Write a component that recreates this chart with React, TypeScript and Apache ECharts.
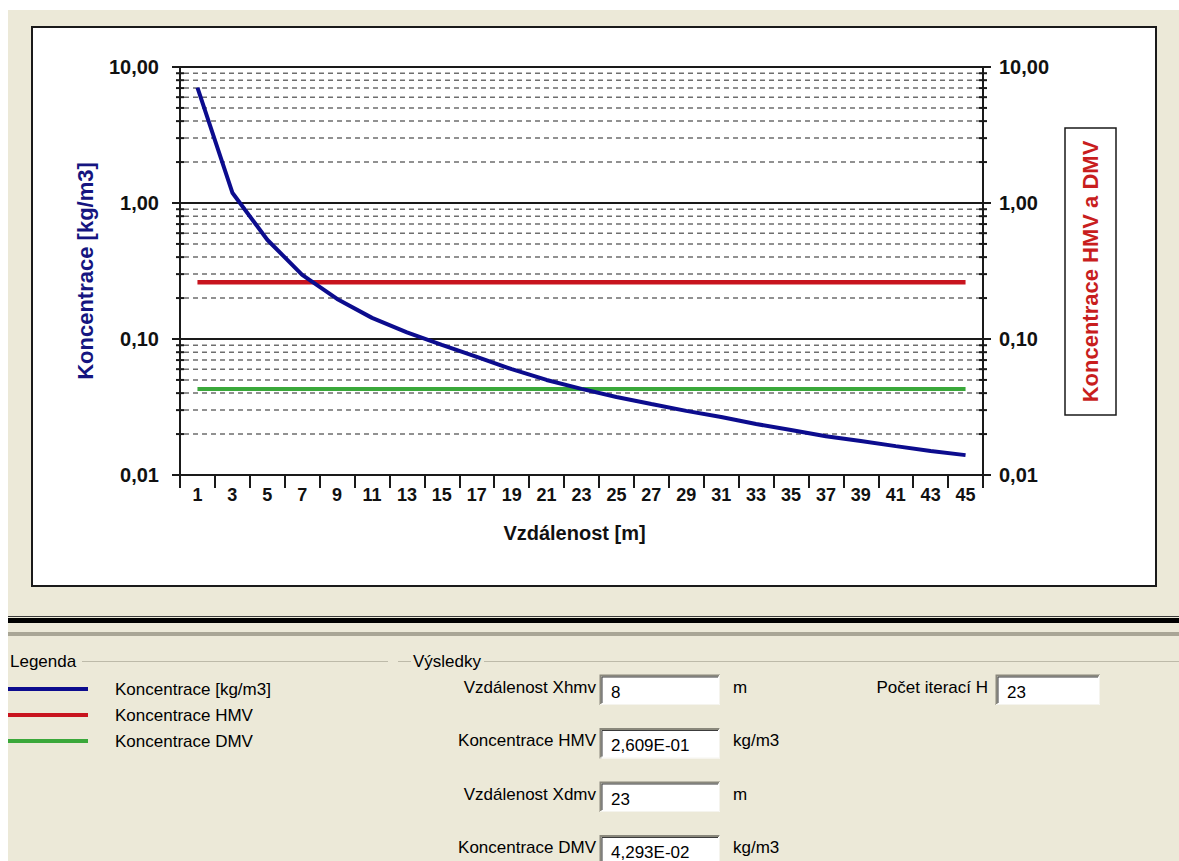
import React, { useEffect, useRef } from "react";
import * as echarts from "echarts";

// ---------- data ----------
const distances = ["1", "3", "5", "7", "9", "11", "13", "15", "17", "19", "21", "23", "25", "27", "29", "31", "33", "35", "37", "39", "41", "43", "45"];
const concentration = [7.06, 1.19, 0.537, 0.296, 0.197, 0.143, 0.112, 0.0906, 0.0738, 0.06, 0.05, 0.043, 0.0375, 0.0333, 0.0296, 0.0267, 0.0237, 0.0214, 0.0193, 0.0178, 0.0163, 0.015, 0.014];
const hmvValue = 0.2609;
const dmvValue = 0.04293;
const hmvSeries = distances.map(() => hmvValue);
const dmvSeries = distances.map(() => dmvValue);
const minorGridValues = [0.02, 0.03, 0.04, 0.05, 0.06, 0.07, 0.08, 0.09, 0.2, 0.3, 0.4, 0.5, 0.6, 0.7, 0.8, 0.9, 2, 3, 4, 5, 6, 7, 8, 9];

const legendNames = ["Koncentrace [kg/m3]", "Koncentrace HMV", "Koncentrace DMV"];
const legendColors = ["#0c0c8e", "#c8141e", "#3aa83a"];
const resultLabels = ["Vzdálenost Xhmv", "Koncentrace HMV", "Vzdálenost Xdmv", "Koncentrace DMV"];
const resultValues = ["8", "2,609E-01", "23", "4,293E-02"];
const resultUnits = ["m", "kg/m3", "m", "kg/m3"];
const iterLabel = "Počet iterací H";
const iterValue = "23";

const FONT = "'Liberation Sans', Arial, Helvetica, sans-serif";
const BEIGE = "#ECE9D8";

const fmtY = (v: number) => v.toFixed(2).replace(".", ",");

function textBox(x: number, y: number, w: number, h: number, value: string): any[] {
  return [
    { type: "rect", z: -5, shape: { x, y, width: w, height: h }, style: { fill: "#ffffff" } },
    { type: "polyline", z: -4, shape: { points: [[x + 0.5, y + h], [x + 0.5, y + 0.5], [x + w, y + 0.5]] }, style: { stroke: "#8a887c", lineWidth: 2, fill: null } },
    { type: "polyline", z: -4, shape: { points: [[x + 2, y + h - 2], [x + 2, y + 2], [x + w - 2, y + 2]] }, style: { stroke: "#3c3c3c", lineWidth: 1, fill: null } },
    { type: "polyline", z: -4, shape: { points: [[x, y + h - 0.5], [x + w - 0.5, y + h - 0.5], [x + w - 0.5, y]] }, style: { stroke: "#f5f4ee", lineWidth: 1, fill: null } },
    { type: "text", z: -3, style: { text: value, x: x + 11, y: y + 17, fill: "#000", fontSize: 17, fontFamily: FONT, align: "left", verticalAlign: "middle" } },
  ];
}

export default function App() {
  const ref = useRef<HTMLDivElement>(null);

  useEffect(() => {
    if (!ref.current) return;
    const chart = echarts.init(ref.current, null, { renderer: "svg" });

    const graphics: any[] = [
      { type: "rect", z: -10, shape: { x: 8, y: 10, width: 1171, height: 851 }, style: { fill: BEIGE } },
      { type: "rect", z: -9, shape: { x: 32, y: 27, width: 1124, height: 559 }, style: { fill: "#ffffff", stroke: "#1a1a1a", lineWidth: 2 } },
      // separator
      { type: "line", z: -8, shape: { x1: 8, y1: 616.5, x2: 1179, y2: 616.5 }, style: { stroke: "#3a3a3a", lineWidth: 1 } },
      { type: "rect", z: -8, shape: { x: 8, y: 618, width: 1171, height: 5 }, style: { fill: "#000000" } },
      { type: "rect", z: -8, shape: { x: 8, y: 632, width: 1171, height: 4 }, style: { fill: "#a9a696" } },
      // group boxes
      { type: "text", z: -7, style: { text: "Legenda", x: 10, y: 661, fill: "#000", fontSize: 17, fontFamily: FONT, align: "left", verticalAlign: "middle" } },
      { type: "line", z: -7, shape: { x1: 82, y1: 661.5, x2: 388, y2: 661.5 }, style: { stroke: "#bdbaa9", lineWidth: 1 } },
      { type: "line", z: -7, shape: { x1: 398, y1: 661.5, x2: 411, y2: 661.5 }, style: { stroke: "#bdbaa9", lineWidth: 1 } },
      { type: "text", z: -7, style: { text: "Výsledky", x: 413, y: 661, fill: "#000", fontSize: 17, fontFamily: FONT, align: "left", verticalAlign: "middle" } },
      { type: "line", z: -7, shape: { x1: 484, y1: 661.5, x2: 1179, y2: 661.5 }, style: { stroke: "#bdbaa9", lineWidth: 1 } },
      // right axis title box
      {
        type: "group", z: -6, x: 1090.5, y: 271.5,
        children: [
          { type: "rect", shape: { x: -25.5, y: -143.5, width: 51, height: 287 }, style: { fill: "#ffffff", stroke: "#1a1a1a", lineWidth: 1.5 } },
          { type: "text", rotation: Math.PI / 2, style: { text: "Koncentrace HMV a DMV", x: 0, y: 0, fill: "#c81e1e", fontSize: 22, fontWeight: "bold", fontFamily: FONT, align: "center", verticalAlign: "middle" } },
        ],
      },
    ];

    legendNames.forEach((name, i) => {
      const y = 689 + i * 26;
      graphics.push({ type: "line", z: -7, shape: { x1: 8, y1: y, x2: 88, y2: y }, style: { stroke: legendColors[i], lineWidth: 4 } });
      graphics.push({ type: "text", z: -7, style: { text: name, x: 115, y, fill: "#000", fontSize: 17, fontFamily: FONT, align: "left", verticalAlign: "middle" } });
    });

    resultLabels.forEach((label, i) => {
      const top = 675 + i * 53.5;
      graphics.push({ type: "text", z: -7, style: { text: label, x: 596, y: top + 12, fill: "#000", fontSize: 17, fontFamily: FONT, align: "right", verticalAlign: "middle" } });
      graphics.push(...textBox(600, top, 120, 30, resultValues[i]));
      graphics.push({ type: "text", z: -7, style: { text: resultUnits[i], x: 733, y: top + 12, fill: "#000", fontSize: 17, fontFamily: FONT, align: "left", verticalAlign: "middle" } });
    });
    graphics.push({ type: "text", z: -7, style: { text: iterLabel, x: 988, y: 687, fill: "#000", fontSize: 17, fontFamily: FONT, align: "right", verticalAlign: "middle" } });
    graphics.push(...textBox(996, 675, 104, 30, iterValue));

    const yAxisBase = {
      type: "log",
      logBase: 10,
      min: 0.01,
      max: 10,
      axisLine: { show: true, lineStyle: { color: "#1a1a1a", width: 2 } },
      axisTick: { show: true, length: 8, lineStyle: { color: "#1a1a1a", width: 2 } },
      axisLabel: { formatter: fmtY, fontSize: 20, fontWeight: "bold", fontFamily: FONT, color: "#111" },
      minorTick: { show: false },
    };

    const option: any = {
      animation: false,
      backgroundColor: "transparent",
      graphic: graphics,
      grid: { left: 180, right: 196, top: 67, bottom: 386, containLabel: false },
      xAxis: {
        type: "category",
        data: distances,
        boundaryGap: true,
        axisLine: { show: true, lineStyle: { color: "#1a1a1a", width: 2 } },
        axisTick: { show: true, length: 13, interval: 0, lineStyle: { color: "#1a1a1a", width: 2 } },
        axisLabel: { interval: 0, fontSize: 18, fontWeight: "bold", fontFamily: FONT, color: "#111", margin: 11 },
        splitLine: { show: false },
        name: "Vzdálenost [m]",
        nameLocation: "middle",
        nameGap: 48,
        nameTextStyle: { fontSize: 20, fontWeight: "bold", fontFamily: FONT, color: "#111", padding: [0, 14, 0, 0] },
      },
      yAxis: [
        {
          ...yAxisBase,
          position: "left",
          axisLabel: { ...yAxisBase.axisLabel, margin: 21 },
          splitLine: { show: true, lineStyle: { color: "#1a1a1a", width: 2, type: "solid" } },
          name: "Koncentrace [kg/m3]",
          nameLocation: "middle",
          nameRotate: 90,
          nameGap: 84,
          nameTextStyle: { fontSize: 22, fontWeight: "bold", fontFamily: FONT, color: "#151580" },
        },
        {
          ...yAxisBase,
          position: "right",
          axisLabel: { ...yAxisBase.axisLabel, margin: 16 },
          splitLine: { show: false },
        },
      ],
      series: [
        {
          type: "custom",
          name: "minor grid",
          silent: true,
          z: 1,
          encode: { x: 0, y: 1 },
          data: minorGridValues.map((v) => [0, v]),
          renderItem: (params: any, api: any) => {
            const cs = params.coordSys;
            const y = api.coord([0, api.value(1)])[1];
            const right = cs.x + cs.width;
            return {
              type: "group",
              children: [
                { type: "line", shape: { x1: cs.x + 4, y1: y, x2: right - 4, y2: y }, style: { stroke: "#6e6e6e", lineWidth: 1.5, lineDash: [5, 4] } },
                { type: "line", shape: { x1: cs.x - 4, y1: y, x2: cs.x + 4, y2: y }, style: { stroke: "#1a1a1a", lineWidth: 2 } },
                { type: "line", shape: { x1: right - 4, y1: y, x2: right + 4, y2: y }, style: { stroke: "#1a1a1a", lineWidth: 2 } },
              ],
            };
          },
        },
        {
          type: "line",
          name: "Koncentrace HMV",
          data: hmvSeries,
          symbol: "none",
          z: 3,
          lineStyle: { color: legendColors[1], width: 4.5 },
          itemStyle: { color: legendColors[1] },
        },
        {
          type: "line",
          name: "Koncentrace DMV",
          data: dmvSeries,
          symbol: "none",
          z: 3,
          lineStyle: { color: legendColors[2], width: 4 },
          itemStyle: { color: legendColors[2] },
        },
        {
          type: "line",
          name: "Koncentrace [kg/m3]",
          data: concentration,
          symbol: "none",
          z: 4,
          lineStyle: { color: legendColors[0], width: 4 },
          itemStyle: { color: legendColors[0] },
        },
      ],
    };

    chart.setOption(option);
    return () => chart.dispose();
  }, []);

  return (
    <div
      ref={ref}
      style={{ position: "fixed", left: 0, top: 0, width: 1179, height: 861, background: "#ffffff" }}
    />
  );
}
